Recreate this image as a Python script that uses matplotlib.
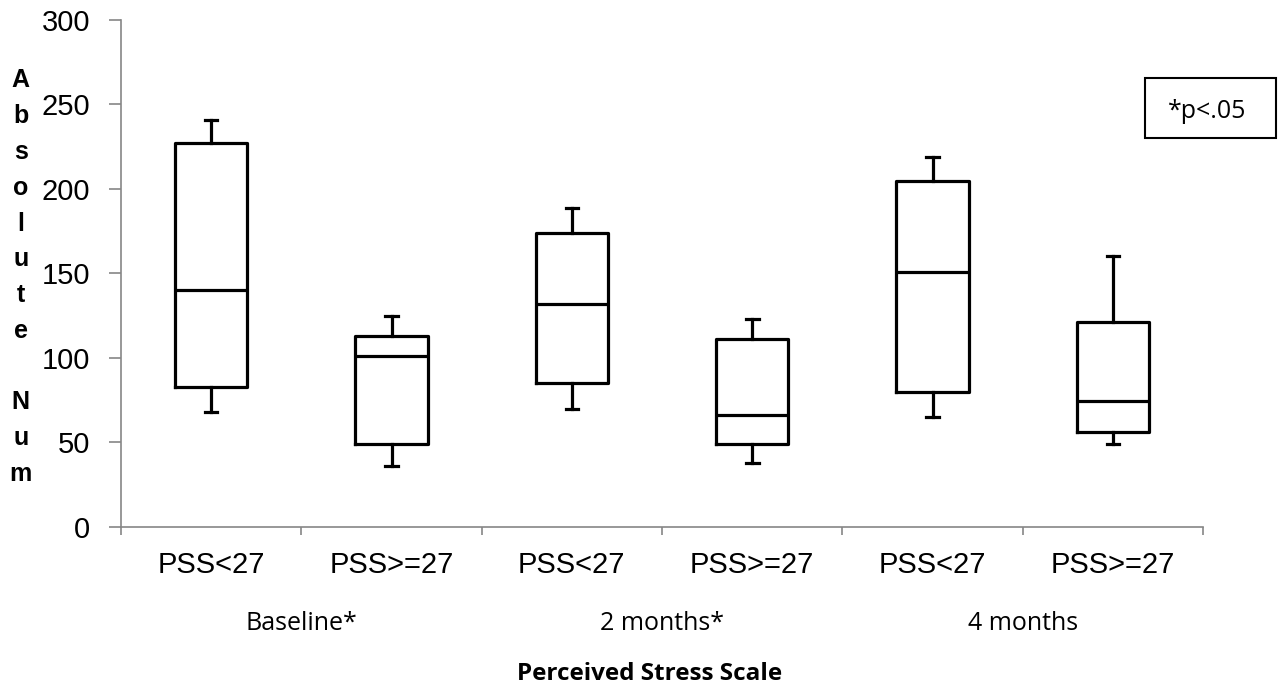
import matplotlib.pyplot as plt
from matplotlib.patches import Rectangle

# box statistics
groups = ["PSS<27", "PSS>=27", "PSS<27", "PSS>=27", "PSS<27", "PSS>=27"]
periods = ["Baseline*", "2 months*", "4 months"]
whisk_lo = [68, 36, 70, 38, 65, 49]
q1 = [83, 49, 85, 49, 80, 56.5]
medians = [140, 101, 132, 66, 151, 74.5]
q3 = [227, 113, 174, 111, 205, 121]
whisk_hi = [241, 125, 189, 123, 219, 160.5]
y_ticks = [0, 50, 100, 150, 200, 250, 300]

axis_grey = "#868686"

fig = plt.figure(figsize=(12.86, 6.88), dpi=100)
ax = fig.add_axes([0.0941, 0.234, 0.8414, 0.737])

stats = []
for i in range(len(groups)):
    stats.append({"whislo": whisk_lo[i], "q1": q1[i], "med": medians[i],
                  "q3": q3[i], "whishi": whisk_hi[i], "fliers": []})

line = dict(color="black", linewidth=2.3)
ax.bxp(stats, positions=range(1, len(groups) + 1), widths=0.4, capwidths=0.07,
       showfliers=False, boxprops=line, medianprops=line,
       whiskerprops=line, capprops=line, manage_ticks=False)

ax.set_xlim(0.5, len(groups) + 0.5)
ax.set_ylim(0, 300)
ax.set_yticks(y_ticks)
ax.set_yticklabels([str(v) for v in y_ticks], fontsize=21, family="Liberation Sans")

# boundaries get the tick marks, centres get the labels
ax.set_xticks([i + 0.5 for i in range(len(groups) + 1)])
ax.set_xticklabels([])
ax.set_xticks(range(1, len(groups) + 1), minor=True)
ax.set_xticklabels(groups, minor=True, fontsize=21, family="Liberation Sans")
ax.tick_params(axis="x", which="minor", length=0, pad=17)
ax.tick_params(axis="x", which="major", length=6, color=axis_grey, width=1.2)
ax.tick_params(axis="y", length=9, color=axis_grey, width=1.2, pad=13)

for s in ["top", "right"]:
    ax.spines[s].set_visible(False)
for s in ["left", "bottom"]:
    ax.spines[s].set_color(axis_grey)
    ax.spines[s].set_linewidth(1.2)

# period labels under each pair
for j, p in enumerate(periods):
    ax.annotate(p, xy=(2 * j + 1.5, 0.085), xycoords=("data", "figure fraction"),
                ha="center", va="baseline", fontsize=18, family="Open Sans",
                annotation_clip=False)

fig.text(0.5054, 0.0116, "Perceived Stress Scale", ha="center", va="baseline",
         fontsize=17.5, fontweight="bold", family="Open Sans")

# stacked y-axis label
fig.text(0.0161, 0.597, "A\nb\ns\no\nl\nu\nt\ne\n\nN\nu\nm", ha="center",
         va="center", fontsize=18, fontweight="bold", family="Liberation Sans",
         linespacing=1.62)

# significance note
fig.patches.append(Rectangle((0.8904, 0.799), 0.1019, 0.0872, transform=fig.transFigure,
                             fill=False, edgecolor="black", linewidth=1.5))
fig.text(0.9383, 0.828, "*p<.05", ha="center", va="baseline", fontsize=18,
         family="Open Sans")

fig.savefig("out.png", dpi=100)
